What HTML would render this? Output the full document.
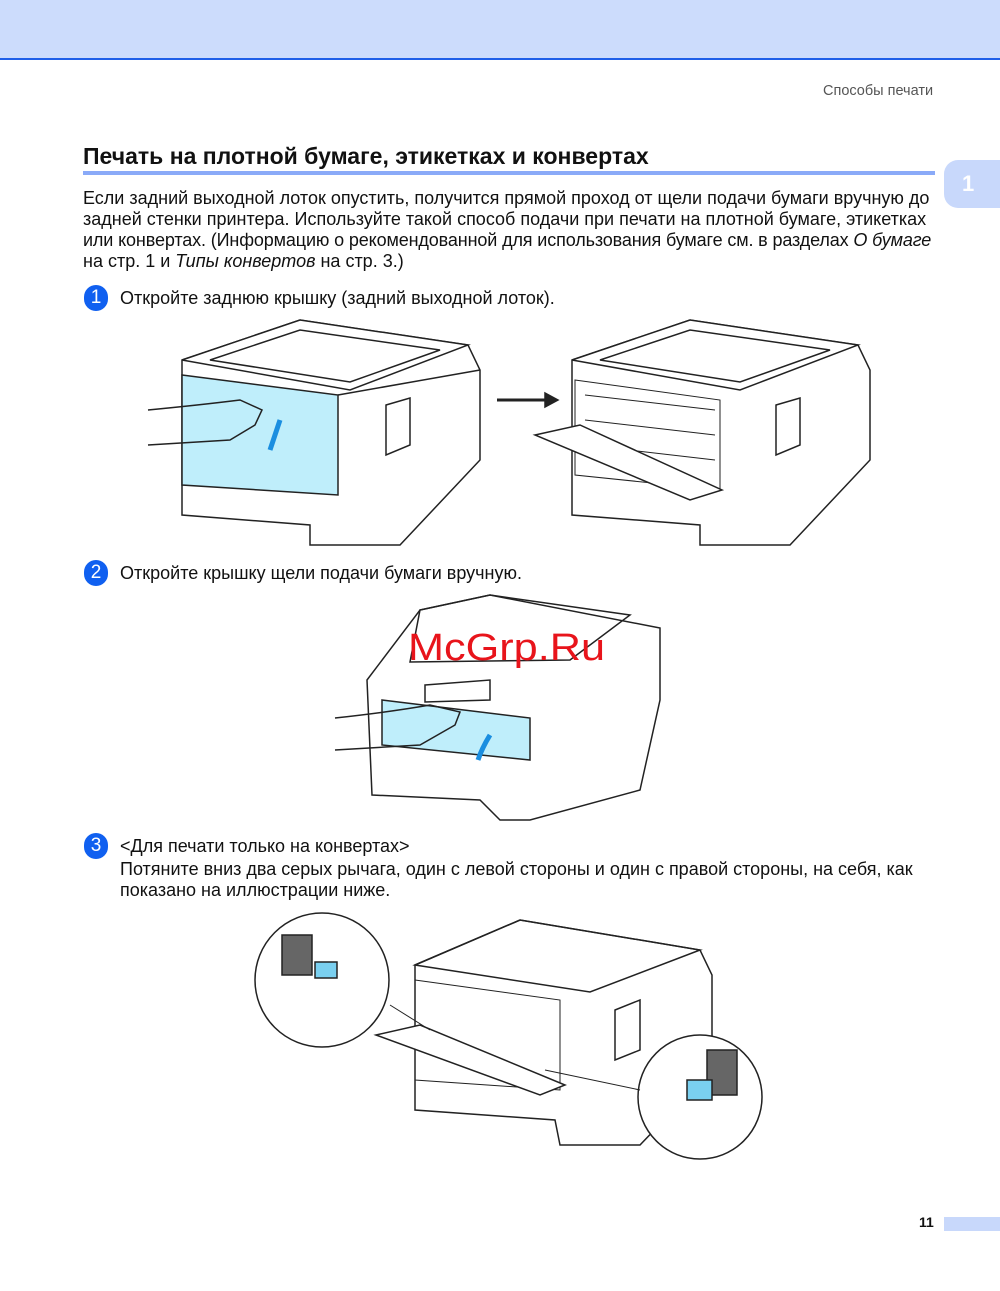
<!DOCTYPE html>
<html><head><meta charset="utf-8"><style>
body{margin:0;width:1000px;height:1291px;background:#fff;position:relative;font-family:"Liberation Sans",Arial,sans-serif;color:#111;overflow:hidden}
.hdr{position:absolute;left:0;top:0;width:1000px;height:58px;background:#ccdcfc;border-bottom:2px solid #1f5fe8}
.abs{position:absolute;white-space:nowrap}
.t{font-size:18px;line-height:21px}
.num{position:absolute;width:24px;height:26px;border-radius:13px;background:#1060f0;color:#fff;font-size:19px;text-align:center;line-height:26px}
</style></head><body>
<div class="hdr"></div>
<div class="abs" style="left:823px;top:83px;font-size:14.5px;color:#555">Способы печати</div>
<div class="abs" style="left:83px;top:143px;font-size:23px;font-weight:bold">Печать на плотной бумаге, этикетках и конвертах</div>
<div class="abs" style="left:83px;top:171px;width:852px;height:4px;background:#8aaaf8"></div>
<div class="abs" style="left:944px;top:160px;width:60px;height:48px;background:#c8d8fb;border-radius:14px 0 0 14px;color:#fff;font-size:22px;font-weight:bold;line-height:48px;text-indent:18px">1</div>
<div class="abs t" style="left:83px;top:188px">Если задний выходной лоток опустить, получится прямой проход от щели подачи бумаги вручную до</div>
<div class="abs t" style="left:83px;top:209px">задней стенки принтера. Используйте такой способ подачи при печати на плотной бумаге, этикетках</div>
<div class="abs t" style="left:83px;top:230px;letter-spacing:-0.13px">или конвертах. (Информацию о рекомендованной для использования бумаге см. в разделах <i>О бумаге</i></div>
<div class="abs t" style="left:83px;top:251px">на стр. 1 и <i>Типы конвертов</i> на стр. 3.)</div>

<div class="num" style="left:84px;top:285px">1</div>
<div class="abs t" style="left:120px;top:288px">Откройте заднюю крышку (задний выходной лоток).</div>
<div class="num" style="left:84px;top:560px">2</div>
<div class="abs t" style="left:120px;top:563px">Откройте крышку щели подачи бумаги вручную.</div>
<div class="num" style="left:84px;top:833px">3</div>
<div class="abs t" style="left:120px;top:836px">&lt;Для печати только на конвертах&gt;</div>
<div class="abs t" style="left:120px;top:859px">Потяните вниз два серых рычага, один с левой стороны и один с правой стороны, на себя, как</div>
<div class="abs t" style="left:120px;top:880px">показано на иллюстрации ниже.</div>

<svg class="abs" style="left:0;top:0" width="1000" height="1291" fill="none" stroke="#222" stroke-width="1.5">
<path d="M182 360 L300 320 L468 345 L480 370 L480 460 L400 545 L310 545 L310 525 L182 515 Z" fill="#fff"/>
<path d="M182 360 L300 320 L468 345 L350 390 Z" fill="#fff"/>
<path d="M210 360 L300 330 L440 350 L350 382 Z"/>
<path d="M182 375 L338 395 L338 495 L182 485 Z" fill="#bfeefb"/>
<path d="M338 395 L480 370"/>
<path d="M386 405 L410 398 L410 445 L386 455 Z"/>
<path d="M148 410 Q200 405 240 400 L262 410 L255 425 L230 440 L148 445"/>
<path d="M280 420 Q275 435 270 450" stroke="#1a8ee0" stroke-width="5"/>
<path d="M497 400 L548 400" stroke-width="3"/>
<path d="M558 400 L545 393 L545 407 Z" fill="#222"/>
<path d="M572 360 L690 320 L858 345 L870 370 L870 460 L790 545 L700 545 L700 525 L572 515 Z" fill="#fff"/>
<path d="M572 360 L690 320 L858 345 L740 390 Z" fill="#fff"/>
<path d="M600 360 L690 330 L830 350 L740 382 Z"/>
<path d="M575 380 L720 400 L720 490 L575 475 Z" stroke-width="1"/>
<path d="M585 395 L715 410 M585 420 L715 435 M585 445 L715 460" stroke-width="1"/>
<path d="M535 435 L580 425 L722 490 L690 500 Z" fill="#fff"/>
<path d="M776 405 L800 398 L800 445 L776 455 Z"/>
<path d="M367 680 L420 610 L490 595 L660 628 L660 700 L640 790 L530 820 L500 820 L480 800 L372 795 Z" fill="#fff"/>
<path d="M420 610 L490 595 L630 615 L570 660 L410 662 Z"/>
<path d="M382 700 L530 718 L530 760 L382 745 Z" fill="#bfeefb"/>
<path d="M425 685 L490 680 L490 700 L425 702 Z"/>
<path d="M335 718 Q390 712 430 705 L460 712 L455 725 L420 745 L335 750"/>
<path d="M490 735 Q482 748 478 760" stroke="#1a8ee0" stroke-width="5"/>
<text x="408" y="660" textLength="197" lengthAdjust="spacingAndGlyphs" font-family="Liberation Sans,sans-serif" font-size="38" fill="#e8141b" stroke="none">McGrp.Ru</text>
<path d="M415 965 L520 920 L700 950 L712 975 L712 1070 L640 1145 L560 1145 L555 1120 L415 1110 Z" fill="#fff"/>
<path d="M415 965 L520 920 L700 950 L590 992 Z"/>
<path d="M415 980 L560 1000 L560 1090 L415 1080 Z" stroke-width="1"/>
<path d="M376 1035 L420 1025 L565 1085 L540 1095 Z" fill="#fff"/>
<path d="M615 1010 L640 1000 L640 1050 L615 1060 Z"/>
<circle cx="322" cy="980" r="67" fill="#fff"/>
<rect x="282" y="935" width="30" height="40" fill="#666"/>
<rect x="315" y="962" width="22" height="16" fill="#7ad0f0"/>
<circle cx="700" cy="1097" r="62" fill="#fff"/>
<rect x="707" y="1050" width="30" height="45" fill="#666"/>
<rect x="687" y="1080" width="25" height="20" fill="#7ad0f0"/>
<path d="M430 1030 L390 1005 M545 1070 L640 1090" stroke-width="1"/>
</svg>

<div class="abs" style="left:919px;top:1214px;font-size:14px;font-weight:bold">11</div>
<div class="abs" style="left:944px;top:1217px;width:56px;height:14px;background:#c8d8fb"></div>
</body></html>
